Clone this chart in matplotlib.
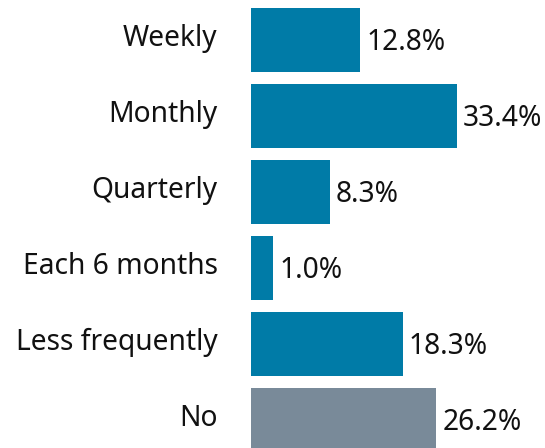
import matplotlib
matplotlib.use("Agg")
import matplotlib.pyplot as plt

plt.rcParams['font.family'] = ['Noto Sans', 'DejaVu Sans']

categories = ["Weekly", "Monthly", "Quarterly", "Each 6 months", "Less frequently", "No"]
shares = ["12.8%", "33.4%", "8.3%", "1.0%", "18.3%", "26.2%"]
# bar lengths as drawn in the picture (same scale as Monthly = 33.4)
bar_len = [17.7, 33.4, 12.8, 3.6, 24.6, 30.0]
colors = ["#007ba7", "#007ba7", "#007ba7", "#007ba7", "#007ba7", "#798a99"]

fig = plt.figure(figsize=(5.45, 4.48), dpi=100)
ax = fig.add_axes([251 / 545, 0, 1 - 251 / 545, 1])

pos = list(range(len(categories)))
ax.barh(pos, bar_len, height=0.83, color=colors)

for p, v, s in zip(pos, bar_len, shares):
    ax.text(v + 1.0, p + 0.03, s, va="center", ha="left", fontsize=20.3, color="#111111")

for p, c in zip(pos, categories):
    ax.text(-5.4, p - 0.02, c, va="center", ha="right", fontsize=20.3, color="#111111")

ax.set_xlim(0, 294 / 6.168)
ax.set_ylim(5 + 28 / 76, -40 / 76)
ax.axis("off")

plt.savefig("out.png", dpi=100)
